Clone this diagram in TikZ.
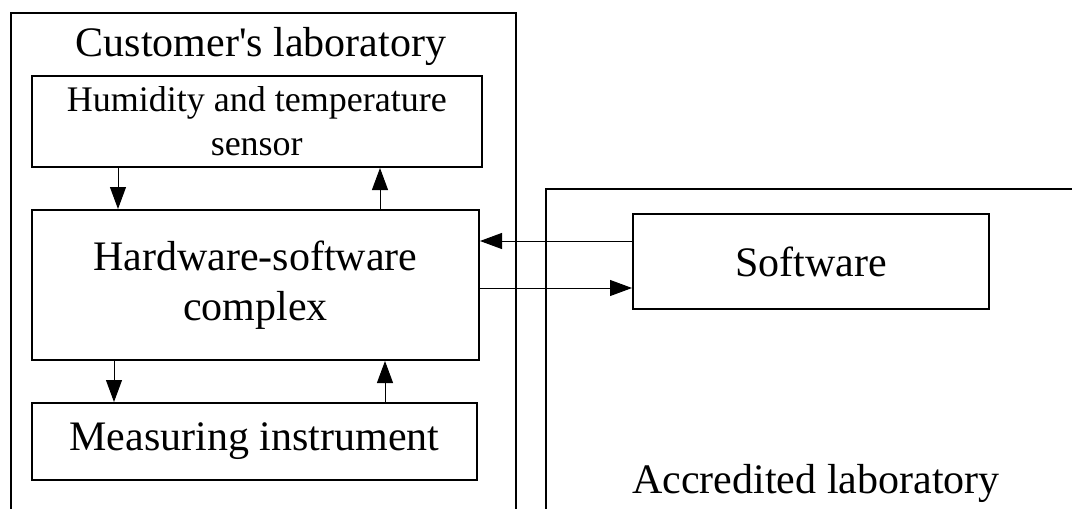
\documentclass[tikz,border=0pt]{standalone}
\usepackage{fontspec}
\setmainfont{Liberation Serif}[Ligatures=TeXOff]
\usetikzlibrary{arrows.meta}

\tikzset{
  labbox/.style={draw, line width=2pt, inner sep=0pt},
  unit/.style={draw, line width=2pt, inner sep=0pt, align=center, font=\fontsize{42}{50}\selectfont},
  labname/.style={anchor=base, font=\fontsize{42}{50}\selectfont},
  link/.style={line width=1pt, -{Triangle[length=22pt, width=16pt]}}
}

\begin{document}
\begin{tikzpicture}[x=1pt, y=-1pt]

\useasboundingbox (0,0) rectangle (1072,509);
\clip (0,0) rectangle (1072,509);

\node[labbox, minimum width=505.5pt, minimum height=560pt] (custlab) at (263.25,293) {};
\node[labbox, minimum width=600pt, minimum height=400pt] (acclab) at (846,389) {};

\node[labname] (custname) at (261,56) {Customer's laboratory};
\node[labname] (accname) at (816,493) {Accredited laboratory};

\node[unit, font=\fontsize{36}{44}\selectfont, minimum width=449.5pt, minimum height=91pt] (humid) at (256.75,121.5) {Humidity and temperature\\sensor};
\node[unit, minimum width=447pt, minimum height=150pt] (hwsw) at (255.5,285) {Hardware-software\\complex};
\node[unit, minimum width=445pt, minimum height=77pt] (measure) at (254.5,441.5) {Measuring instrument};
\node[unit, minimum width=356pt, minimum height=95pt] (soft) at (811,261.5) {Software};

\draw[link] (118,0 |- humid.south) -- (118,0 |- hwsw.north);
\draw[link] (380,0 |- hwsw.north) -- (380,0 |- humid.south);
\draw[link] (114,0 |- hwsw.south) -- (114,0 |- measure.north);
\draw[link] (385,0 |- measure.north) -- (385,0 |- hwsw.south);

\draw[link] (soft.west |- 0,241) -- (hwsw.east |- 0,241);
\draw[link] (hwsw.east |- 0,288) -- (soft.west |- 0,288);

\end{tikzpicture}
\end{document}
